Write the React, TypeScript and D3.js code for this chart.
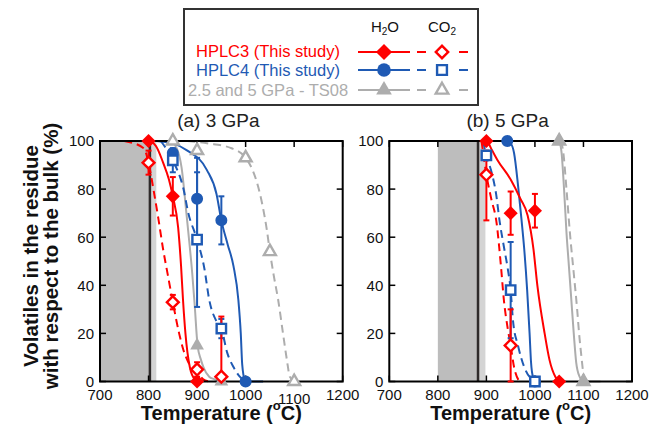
import React from 'react';
import * as d3 from 'd3';

type Pt = { t: number; v: number; lo?: number; hi?: number };
type XY = [number, number];

const tempTicks = [700, 800, 900, 1000, 1100, 1200];
const pctTicks = [0, 20, 40, 60, 80, 100];

// ---- (a) 3 GPa : measured points ----
const aHplc3H2O: Pt[] = [
  { t: 800, v: 100 },
  { t: 850, v: 77, lo: 8, hi: 8 },
  { t: 900, v: 0 },
];
const aHplc3CO2: Pt[] = [
  { t: 800, v: 91, lo: 5, hi: 5 },
  { t: 850, v: 33, lo: 3, hi: 3 },
  { t: 900, v: 5, lo: 3, hi: 3 },
  { t: 950, v: 2, lo: 2, hi: 25 },
];
const aHplc4H2O: Pt[] = [
  { t: 850, v: 95 },
  { t: 900, v: 76, lo: 17, hi: 17 },
  { t: 950, v: 67, lo: 10, hi: 10 },
  { t: 1000, v: 0 },
];
const aHplc4CO2: Pt[] = [
  { t: 850, v: 92, lo: 5, hi: 5 },
  { t: 900, v: 59, lo: 28, hi: 28 },
  { t: 950, v: 22, lo: 4, hi: 4 },
];
const aTs08H2O: Pt[] = [
  { t: 850, v: 100 },
  { t: 900, v: 15 },
  { t: 950, v: 0 },
];
const aTs08CO2: Pt[] = [
  { t: 850, v: 100 },
  { t: 900, v: 96 },
  { t: 1000, v: 93 },
  { t: 1050, v: 54 },
  { t: 1100, v: 0 },
];

// ---- (a) fitted curves ----
const aFitHplc3H2O: XY[] = [[750, 100], [800, 100], [815, 98], [830, 91], [842, 84], [850, 77], [861, 64], [867, 48], [871, 34], [876, 20], [885, 6], [895, 1], [905, 0]];
const aFitHplc3CO2: XY[] = [[750, 100], [790, 97], [800, 91], [810, 80], [820, 68], [830, 55], [840, 44], [850, 33], [863, 20], [872, 13], [882, 8], [900, 4], [912, 1], [925, 0]];
const aFitHplc4H2O: XY[] = [[815, 100], [850, 99], [880, 96], [920, 88], [940, 78], [950, 67], [963, 57], [975, 48], [985, 34], [990, 20], [993, 7], [998, 1], [1005, 0], [1036, 0]];
const aFitHplc4CO2: XY[] = [[825, 100], [850, 92], [872, 80], [882, 70], [900, 59], [915, 47], [925, 34], [940, 25], [950, 22], [962, 12], [975, 6], [988, 2], [1000, 0]];
const aFitTs08H2O: XY[] = [[845, 100], [858, 97], [868, 89], [878, 70], [882, 62], [890, 45], [895, 32], [901, 15], [908, 9], [913, 6], [925, 2], [935, 1], [950, 0]];
const aFitTs08CO2: XY[] = [[880, 100], [923, 99], [971, 97], [1000, 93], [1012, 89], [1023, 83], [1035, 73], [1043, 64], [1050, 54], [1058, 44], [1067, 34], [1077, 20], [1085, 9], [1091, 2], [1100, 0]];

// ---- (b) 5 GPa : measured points ----
const bHplc3H2O: Pt[] = [
  { t: 900, v: 100 },
  { t: 950, v: 70, lo: 9, hi: 9 },
  { t: 1000, v: 71, lo: 7, hi: 7 },
  { t: 1050, v: 0 },
];
const bHplc3CO2: Pt[] = [
  { t: 900, v: 86, lo: 19, hi: 10 },
  { t: 950, v: 15, lo: 15, hi: 15 },
];
const bHplc4H2O: Pt[] = [
  { t: 943, v: 100 },
  { t: 1000, v: 0 },
];
const bHplc4CO2: Pt[] = [
  { t: 900, v: 94 },
  { t: 950, v: 38, lo: 20, hi: 20 },
  { t: 1000, v: 0 },
];
const bTs08H2O: Pt[] = [
  { t: 1050, v: 100 },
  { t: 1100, v: 0 },
];
const bTs08CO2: Pt[] = [
  { t: 1050, v: 100 },
  { t: 1100, v: 0 },
];

// ---- (b) fitted curves ----
const bFitHplc3H2O: XY[] = [[857, 100], [900, 100], [912, 96], [923, 92], [950, 84], [970, 76], [985, 69], [997, 55], [1005, 40], [1020, 20], [1030, 9], [1042, 2], [1050, 0]];
const bFitHplc3CO2: XY[] = [[890, 100], [900, 86], [910, 76], [921, 66], [930, 48], [936, 34], [944, 22], [950, 15], [957, 6], [968, 0]];
const bFitHplc4H2O: XY[] = [[940, 100], [950, 99], [957, 95], [965, 82], [972, 68], [978, 55], [984, 38], [989, 20], [992, 8], [996, 2], [1003, 0]];
const bFitHplc4CO2: XY[] = [[893, 100], [900, 94], [912, 86], [920, 78], [927, 67], [937, 55], [944, 47], [950, 38], [955, 25], [965, 15], [978, 6], [1000, 0]];
const bFitTs08H2O: XY[] = [[1050, 100], [1055, 95], [1060, 80], [1065, 62], [1070, 48], [1075, 34], [1080, 20], [1085, 8], [1092, 2], [1100, 0], [1135, 0]];
const bFitTs08CO2: XY[] = [[1053, 100], [1058, 96], [1065, 80], [1072, 62], [1080, 45], [1087, 30], [1091, 20], [1096, 10], [1100, 3], [1105, 0], [1115, 0]];

// shaded ranges (°C): [dark gray start, black start, light start, light end]
const aShade = [700, 800, 806, 816];
const bShade = [800, 880, 886, 898];

const RED = '#ff0000';
const BLUE = '#1f5ab4';
const GRAY = '#adadad';
const FONT = '"Liberation Sans", Arial, Helvetica, sans-serif';

const W = 658;
const H = 426;
const PANEL_W = 242.7;
const TOP = 141;
const BOTTOM = 381.5;

type Kind = 'diamond' | 'circle' | 'square' | 'triangle';

function markerPath(kind: Kind, open: boolean, k = 1): string {
  const gen = d3.symbol();
  if (kind === 'diamond') return gen.type(d3.symbolSquare).size((open ? 70 : 100) * k)() as string;
  if (kind === 'circle') return gen.type(d3.symbolCircle).size((open ? 80 : 113) * k)() as string;
  if (kind === 'square') return gen.type(d3.symbolSquare).size((open ? 88 : 110) * k)() as string;
  return gen.type(d3.symbolTriangle).size((open ? 62 : 82) * k)() as string;
}

function Marker({ kind, open, color, x, y, k = 1 }: { kind: Kind; open: boolean; color: string; x: number; y: number; k?: number }) {
  return (
    <path
      d={markerPath(kind, open, k)}
      transform={`translate(${x},${y})${kind === 'diamond' ? ' rotate(45)' : ''}`}
      fill={open ? '#fff' : color}
      stroke={open ? color : 'none'}
      strokeWidth={open ? 2.4 : 0}
    />
  );
}

type Series = { pts: Pt[]; fit: XY[]; color: string; kind: Kind; open: boolean };

function Panel({ x0, title, shade, series, order, shiftedLabel }: {
  x0: number; title: string; shade: number[]; series: Series[]; order: number[]; shiftedLabel?: number;
}) {
  const x = d3.scaleLinear().domain([700, 1200]).range([x0, x0 + PANEL_W]);
  const y = d3.scaleLinear().domain([0, 100]).range([BOTTOM, TOP]);
  const line = d3.line<XY>().x((d) => x(d[0])).y((d) => y(d[1])).curve(d3.curveMonotoneX);
  const cx = x0 + PANEL_W / 2;

  return (
    <g>
      <defs>
        <clipPath id={`clip${x0}`}>
          <rect x={x0} y={TOP - 8} width={PANEL_W} height={BOTTOM - TOP + 16} />
        </clipPath>
      </defs>
      {/* shaded bands */}
      <rect x={x(shade[0])} y={TOP} width={x(shade[1]) - x(shade[0])} height={BOTTOM - TOP} fill="#bdbdbd" />
      <rect x={x(shade[1])} y={TOP} width={x(shade[2]) - x(shade[1])} height={BOTTOM - TOP} fill="#2e2a2a" />
      <rect x={x(shade[2])} y={TOP} width={x(shade[3]) - x(shade[2])} height={BOTTOM - TOP} fill="#d4d4d4" />

      {/* fitted curves */}
      <g clipPath={`url(#clip${x0})`}>
        {series.map((s, i) => (
          <path key={i} d={line(s.fit) as string} fill="none" stroke={s.color} strokeWidth={2}
            strokeDasharray={s.open ? '8,5' : undefined} />
        ))}
      </g>

      {/* frame and ticks */}
      <rect x={x0} y={TOP} width={PANEL_W} height={BOTTOM - TOP} fill="none" stroke="#000" strokeWidth={2} />
      {tempTicks.map((t) => (
        <g key={`xt${t}`}>
          <line x1={x(t)} x2={x(t)} y1={BOTTOM} y2={BOTTOM - 6} stroke="#000" strokeWidth={1.5} />
          <line x1={x(t)} x2={x(t)} y1={TOP} y2={TOP + 6} stroke="#000" strokeWidth={1.5} />
          <text x={x(t)} y={400 + (t === shiftedLabel ? 4 : 0)} textAnchor="middle" fontSize={15} fontFamily={FONT} fill="#111">{t}</text>
        </g>
      ))}
      {pctTicks.map((v) => (
        <g key={`yt${v}`}>
          <line x1={x0} x2={x0 + 6} y1={y(v)} y2={y(v)} stroke="#000" strokeWidth={1.5} />
          <line x1={x0 + PANEL_W} x2={x0 + PANEL_W - 6} y1={y(v)} y2={y(v)} stroke="#000" strokeWidth={1.5} />
          <text x={x0 - 6} y={y(v)} dy="0.36em" textAnchor="end" fontSize={15} fontFamily={FONT} fill="#111">{v}</text>
        </g>
      ))}

      {/* error bars */}
      {series.map((s, i) => (
        <g key={`e${i}`}>
          {s.pts.filter((p) => p.lo !== undefined).map((p, j) => {
            const px = x(p.t);
            const y1 = y(p.v - (p.lo as number));
            const y2 = y(p.v + (p.hi as number));
            return (
              <g key={j} stroke={s.color} strokeWidth={2}>
                <line x1={px} x2={px} y1={y1} y2={y2} />
                <line x1={px - 3} x2={px + 3} y1={y1} y2={y1} />
                <line x1={px - 3} x2={px + 3} y1={y2} y2={y2} />
              </g>
            );
          })}
        </g>
      ))}

      {/* markers */}
      {order.map((i) => (
        <g key={`m${i}`}>
          {series[i].pts.map((p, j) => (
            <Marker key={j} kind={series[i].kind} open={series[i].open} color={series[i].color} x={x(p.t)} y={y(p.v)} />
          ))}
        </g>
      ))}

      <text x={cx - 3} y={127} textAnchor="middle" fontSize={19} fontFamily={FONT} fill="#222">{title}</text>
      <text x={cx} y={420} textAnchor="middle" fontSize={20} fontWeight="bold" fontFamily={FONT} fill="#111">
        Temperature (<tspan fontSize={13} dy={-10}>o</tspan><tspan dy={10}>C)</tspan>
      </text>
    </g>
  );
}

function Legend() {
  const rows = [
    { label: 'HPLC3 (This study)', color: RED, kind: 'diamond' as Kind, y: 52, base: 57 },
    { label: 'HPLC4 (This study)', color: BLUE, kind: 'circle' as Kind, y: 70, base: 76 },
    { label: '2.5 and 5 GPa - TS08', color: GRAY, kind: 'triangle' as Kind, y: 90, base: 96 },
  ];
  return (
    <g fontFamily={FONT}>
      <rect x={184} y={9} width={294} height={96} fill="#fff" stroke="#333" strokeWidth={2} />
      <text x={385} y={32} textAnchor="middle" fontSize={15} fill="#111">
        H<tspan fontSize={10} dy={3}>2</tspan><tspan dy={-3}>O</tspan>
      </text>
      <text x={442} y={32} textAnchor="middle" fontSize={15} fill="#111">
        CO<tspan fontSize={10} dy={3}>2</tspan>
      </text>
      {rows.map((r) => (
        <g key={r.label}>
          <text x={268} y={r.base} textAnchor="middle" fontSize={16.5} fill={r.color}>{r.label}</text>
          <line x1={358} x2={410} y1={r.y} y2={r.y} stroke={r.color} strokeWidth={2} />
          <Marker kind={r.kind} open={false} color={r.color} x={384} y={r.y} k={1.3} />
          <line x1={417} x2={426} y1={r.y} y2={r.y} stroke={r.color} strokeWidth={2} />
          <line x1={459} x2={468} y1={r.y} y2={r.y} stroke={r.color} strokeWidth={2} />
          <Marker kind={r.kind === 'diamond' ? 'diamond' : r.kind === 'circle' ? 'square' : 'triangle'} open color={r.color} x={442} y={r.y} k={1.1} />
        </g>
      ))}
    </g>
  );
}

export default function App() {
  const aSeries: Series[] = [
    { pts: aTs08H2O, fit: aFitTs08H2O, color: GRAY, kind: 'triangle', open: false },
    { pts: aHplc4H2O, fit: aFitHplc4H2O, color: BLUE, kind: 'circle', open: false },
    { pts: aHplc3H2O, fit: aFitHplc3H2O, color: RED, kind: 'diamond', open: false },
    { pts: aTs08CO2, fit: aFitTs08CO2, color: GRAY, kind: 'triangle', open: true },
    { pts: aHplc4CO2, fit: aFitHplc4CO2, color: BLUE, kind: 'square', open: true },
    { pts: aHplc3CO2, fit: aFitHplc3CO2, color: RED, kind: 'diamond', open: true },
  ];
  const bSeries: Series[] = [
    { pts: bTs08H2O, fit: bFitTs08H2O, color: GRAY, kind: 'triangle', open: false },
    { pts: bHplc4H2O, fit: bFitHplc4H2O, color: BLUE, kind: 'circle', open: false },
    { pts: bHplc3H2O, fit: bFitHplc3H2O, color: RED, kind: 'diamond', open: false },
    { pts: bTs08CO2, fit: bFitTs08CO2, color: GRAY, kind: 'triangle', open: true },
    { pts: bHplc4CO2, fit: bFitHplc4CO2, color: BLUE, kind: 'square', open: true },
    { pts: bHplc3CO2, fit: bFitHplc3CO2, color: RED, kind: 'diamond', open: true },
  ];

  return (
    <svg width={W} height={H} style={{ position: 'absolute', left: 0, top: 0, background: '#fff' }}>
      <rect width={W} height={H} fill="#fff" />
      <Panel x0={100} title="(a) 3 GPa" shade={aShade} series={aSeries} order={[0, 1, 2, 3, 4, 5]} shiftedLabel={1100} />
      <Panel x0={389.3} title="(b) 5 GPa" shade={bShade} series={bSeries} order={[3, 0, 1, 2, 4, 5]} />
      <g fontFamily={FONT} fontWeight="bold" fontSize={20.5} fill="#111">
        <text transform="translate(38,256) rotate(-90)" textAnchor="middle">Volatiles in the residue</text>
        <text transform="translate(58,256) rotate(-90)" textAnchor="middle">with respect to the bulk (%)</text>
      </g>
      <Legend />
    </svg>
  );
}
